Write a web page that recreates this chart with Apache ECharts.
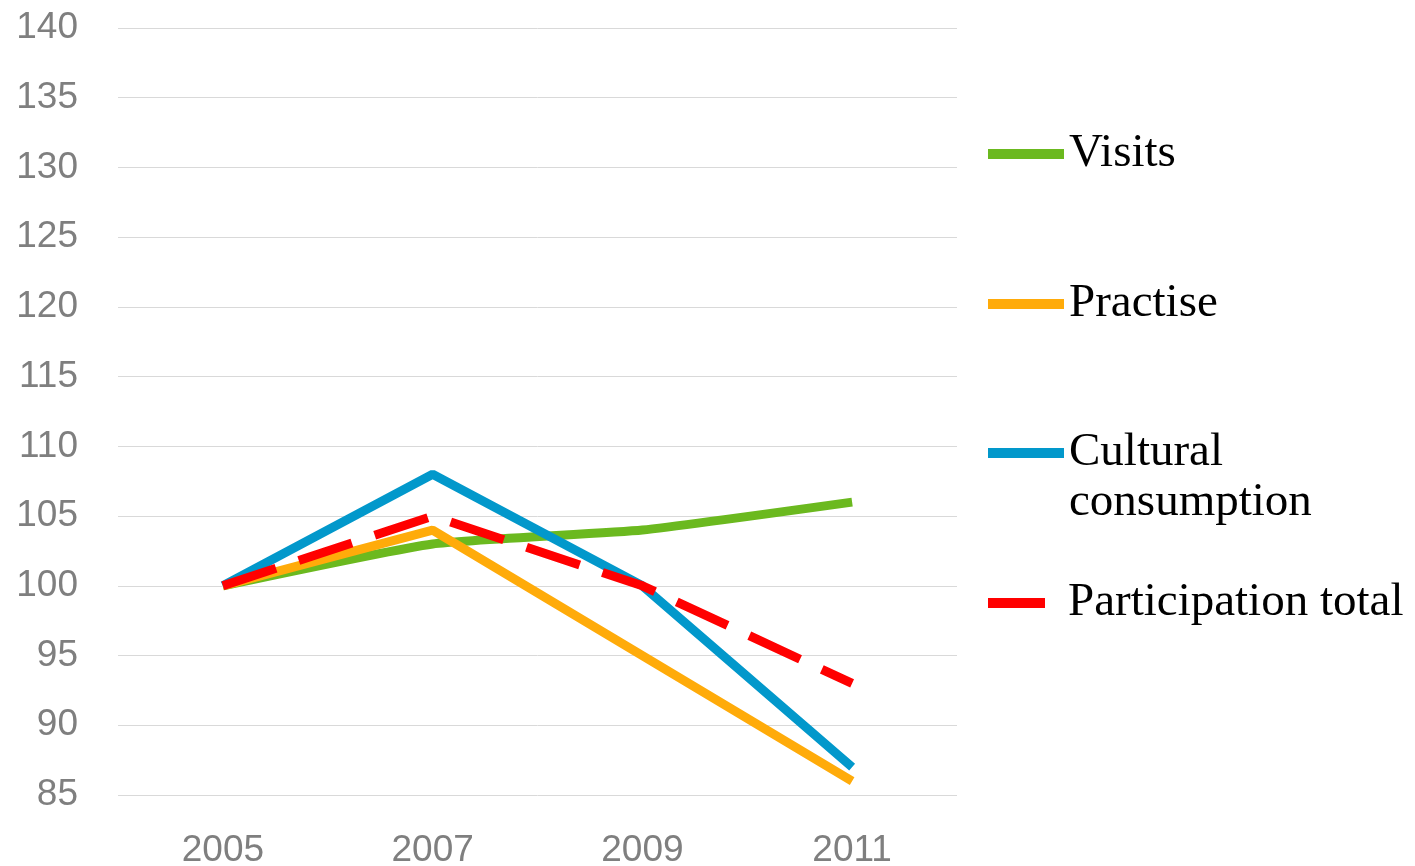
<!DOCTYPE html>
<html>
<head>
<meta charset="utf-8">
<script src="https://cdn.jsdelivr.net/npm/echarts@6/dist/echarts.min.js"></script>
<style>
html,body{margin:0;padding:0;background:#fff;}
#chart{width:1415px;height:866px;}
</style>
</head>
<body>
<div id="chart"></div>
<script>
var years = ['2005', '2007', '2009', '2011'];
var visits = [100, 103, 104, 106];
var practise = [100, 104, 95, 86];
var cultural = [100, 108, 100, 87];
var participation = [100, 105, 100, 93];
var seriesNames = ['Visits', 'Practise', 'Cultural consumption', 'Participation total'];
var colors = ['#6bb91f', '#ffab0a', '#0298cb', '#ff0000'];

var chart = echarts.init(document.getElementById('chart'));
var legendFont = {fontFamily: '"Liberation Serif", serif', fontSize: 47, color: '#000', lineHeight: 50};
function mkLegend(name, top, opts) {
  var base = {
    data: [name], left: 988, top: top, padding: 0, orient: 'vertical',
    itemWidth: 76, itemHeight: 10, icon: 'rect', selectedMode: false,
    textStyle: Object.assign({}, legendFont)
  };
  return Object.assign(base, opts || {});
}
chart.setOption({
  animation: false,
  color: colors,
  grid: {left: 118, right: 458, top: 28, bottom: 71, containLabel: false, outerBoundsMode: 'none'},
  legend: [
    mkLegend(seriesNames[0], 129),
    mkLegend(seriesNames[1], 279),
    mkLegend(seriesNames[2], 378, {
      formatter: function () { return ' \nCultural\nconsumption'; }
    }),
    mkLegend(seriesNames[3], 578, {
      itemWidth: 57,
      textStyle: Object.assign({}, legendFont, {padding: [0, 0, 0, 18]})
    })
  ],
  xAxis: {
    type: 'category', data: years, boundaryGap: true,
    axisLine: {show: false}, axisTick: {show: false},
    axisLabel: {fontFamily: '"Liberation Sans", sans-serif', fontSize: 37, color: '#7f7f7f', margin: 37}
  },
  yAxis: {
    type: 'value', min: 85, max: 140, interval: 5,
    axisLine: {show: false}, axisTick: {show: false},
    splitLine: {lineStyle: {color: '#d9d9d9', width: 1}},
    axisLabel: {fontFamily: '"Liberation Sans", sans-serif', fontSize: 37, color: '#7f7f7f', margin: 40}
  },
  series: [
    {name: seriesNames[0], type: 'line', data: visits, smooth: 0.15, symbol: 'none',
      lineStyle: {width: 9, color: colors[0]}},
    {name: seriesNames[1], type: 'line', data: practise, symbol: 'none',
      lineStyle: {width: 9, color: colors[1]}},
    {name: seriesNames[2], type: 'line', data: cultural, symbol: 'none',
      lineStyle: {width: 9, color: colors[2]}},
    {name: seriesNames[3], type: 'line', data: participation, symbol: 'none',
      lineStyle: {width: 9, color: colors[3], type: [56, 24], cap: 'butt'}}
  ]
});
</script>
</body>
</html>
